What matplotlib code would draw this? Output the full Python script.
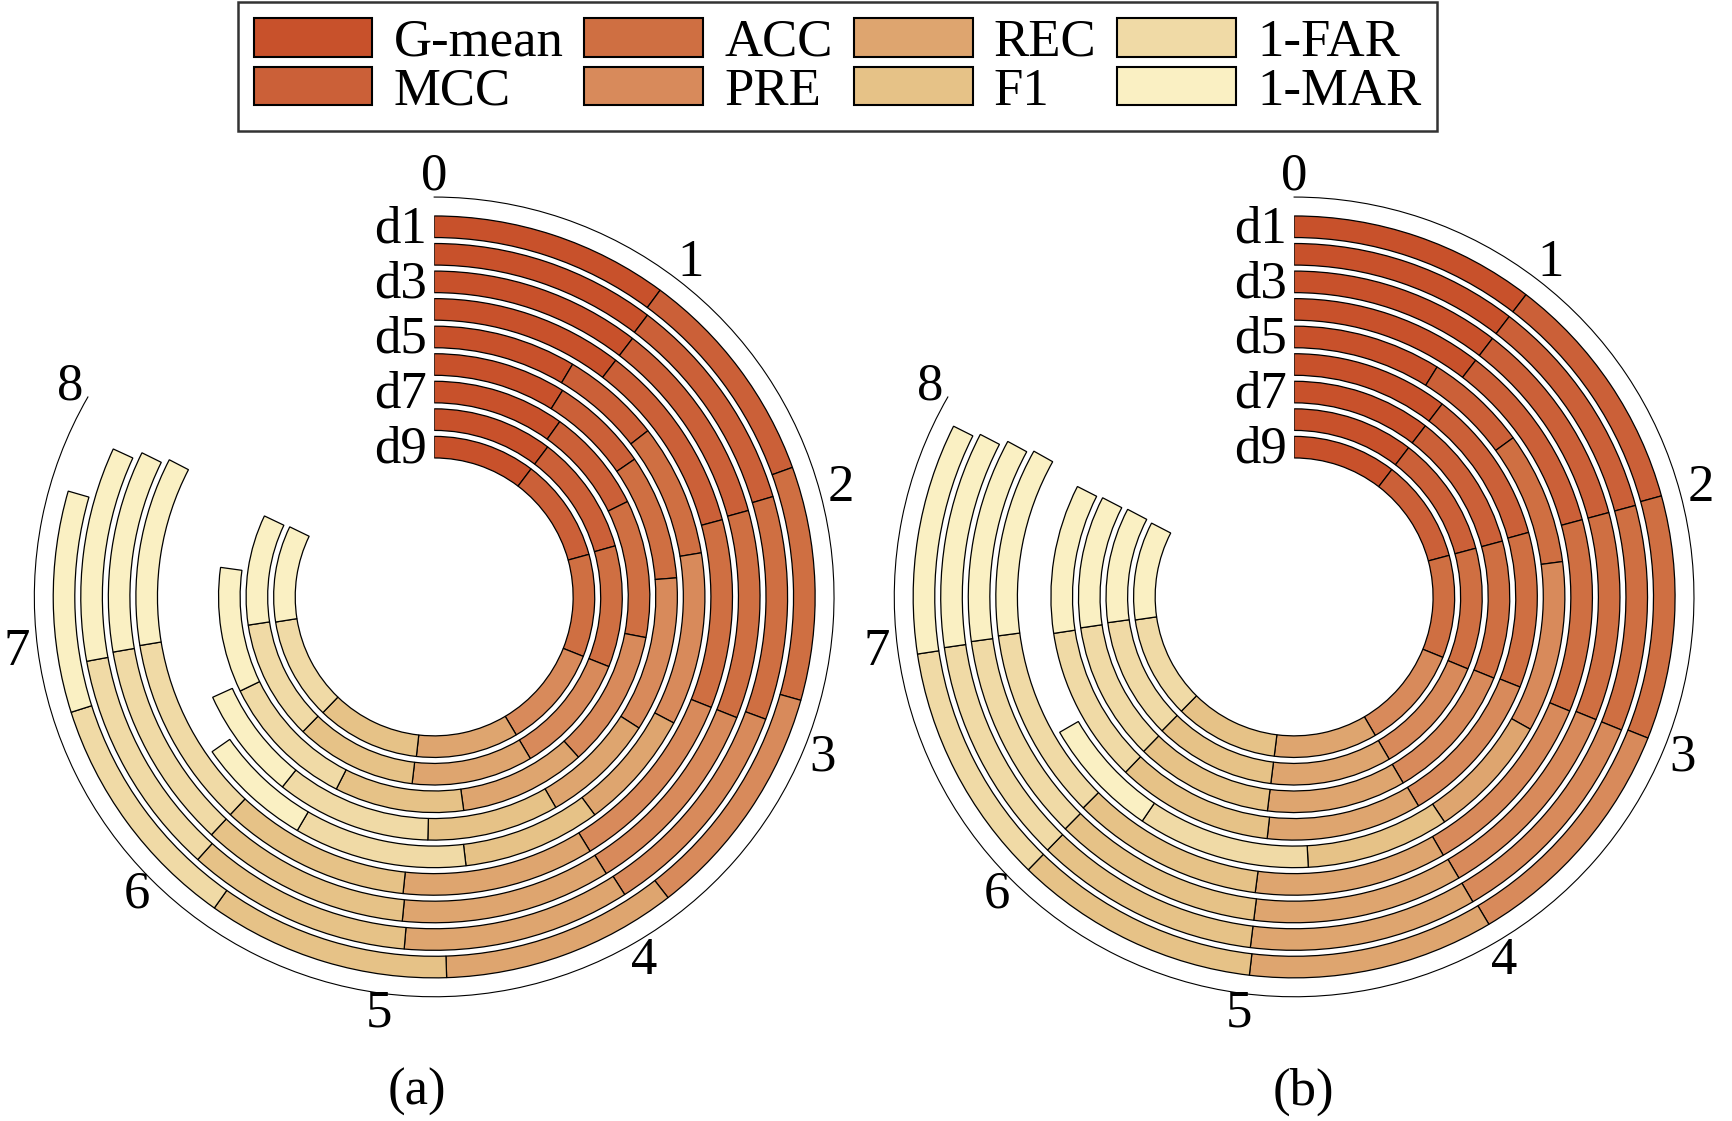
import numpy as np
import matplotlib
matplotlib.use("Agg")
import matplotlib.pyplot as plt
from matplotlib.patches import Patch

plt.rcParams['font.family'] = ['Liberation Serif', 'DejaVu Serif']

# --------------------------------------------------------------
# data: one list per ring (d1 outermost), 8 metrics per ring
# --------------------------------------------------------------
metrics = ["G-mean", "MCC", "ACC", "PRE", "REC", "F1", "1-FAR", "1-MAR"]
colors = ["#C8512B", "#CB6038", "#CF6F42", "#D88A5B", "#DEA56F", "#E6C287", "#F0DAA6", "#FAF0C3"]
ring_names = ["d1", "d2", "d3", "d4", "d5", "d6", "d7", "d8", "d9"]
tick_labels = ["0", "1", "2", "3", "4", "5", "6", "7", "8"]

# panel (a)
a_d1 = [0.97, 0.90, 0.95, 0.97, 0.96, 0.99, 0.99, 0.90]
a_d2 = [0.99, 0.97, 0.98, 0.99, 1.00, 0.99, 1.00, 0.94]
a_d3 = [1.00, 0.99, 0.99, 0.97, 1.00, 1.00, 0.99, 0.96]
a_d4 = [1.00, 1.00, 0.98, 0.98, 1.00, 0.99, 1.00, 0.98]
a_d5 = [0.82, 0.57, 0.76, 0.99, 0.69, 0.79, 0.99, 0.66]
a_d6 = [0.85, 0.63, 0.80, 0.99, 0.73, 0.84, 0.99, 0.72]
a_d7 = [0.95, 0.75, 0.99, 0.99, 0.91, 0.93, 0.99, 0.90]
a_d8 = [0.99, 0.99, 1.00, 1.00, 1.00, 1.00, 0.99, 0.91]
a_d9 = [0.99, 1.00, 0.99, 1.00, 0.99, 1.00, 0.99, 0.93]

# panel (b)
b_d1 = [1.00, 0.99, 0.99, 1.00, 1.00, 1.00, 0.99, 0.94]
b_d2 = [1.00, 1.00, 0.99, 1.00, 1.00, 0.99, 1.00, 0.95]
b_d3 = [1.00, 1.00, 0.99, 1.00, 1.00, 1.00, 1.00, 0.97]
b_d4 = [1.00, 1.00, 1.00, 1.00, 1.00, 1.00, 1.00, 0.98]
b_d5 = [0.85, 0.59, 0.76, 0.98, 0.72, 0.82, 0.99, 0.69]
b_d6 = [1.00, 0.99, 0.99, 1.00, 0.99, 1.00, 1.00, 0.95]
b_d7 = [1.00, 1.00, 0.99, 1.00, 1.00, 0.99, 1.00, 0.95]
b_d8 = [1.00, 1.00, 1.00, 0.99, 1.00, 1.00, 1.00, 0.95]
b_d9 = [1.00, 1.00, 0.99, 1.00, 1.00, 1.00, 0.99, 0.95]

rings_a = [a_d1, a_d2, a_d3, a_d4, a_d5, a_d6, a_d7, a_d8, a_d9]
rings_b = [b_d1, b_d2, b_d3, b_d4, b_d5, b_d6, b_d7, b_d8, b_d9]

# --------------------------------------------------------------
# geometry (radial units ~ pixels)
# --------------------------------------------------------------
UNIT = 2 * np.pi / 9.6     # value 8 -> 300 degrees
R_MAX = 402
R_OUT = 383
PITCH = 27.7
BAR = 21.7
FS = 38


def draw_panel(ax, rings):
    ax.set_theta_zero_location("N")
    ax.set_theta_direction(-1)
    ax.set_thetamin(0)
    ax.set_thetamax(300)
    ax.set_ylim(0, R_MAX)

    for k, vals in enumerate(rings):
        bottom = R_OUT - PITCH * k - BAR
        left = 0.0
        for j, v in enumerate(vals):
            ax.bar(left * UNIT, BAR, width=v * UNIT, bottom=bottom, align="edge",
                   color=colors[j], edgecolor="black", linewidth=0.9)
            left += v
        if k % 2 == 0:
            ax.annotate(ring_names[k], xy=(0, bottom + BAR / 2), xytext=(-5, -2),
                        textcoords="offset points", ha="right", va="center",
                        fontsize=FS)

    ax.set_xticks(np.arange(9) * UNIT)
    ax.set_xticklabels(tick_labels)
    ax.set_yticks([])
    ax.grid(False)
    # polar draw() turns start/end spines back on, so blank them instead
    for s in ["start", "end", "inner"]:
        ax.spines[s].set_linewidth(0)
        ax.spines[s].set_edgecolor("none")
    ax.spines["polar"].set_linewidth(0.8)
    ax.tick_params(axis="x", direction="out", length=6, width=0.8, pad=2, labelsize=FS)


fig = plt.figure(figsize=(17.32, 11.21), dpi=100)

ax_a = fig.add_axes([0.0185, 0.1079, 0.4642, 0.7172], projection="polar")
ax_b = fig.add_axes([0.5150, 0.1079, 0.4642, 0.7172], projection="polar")
draw_panel(ax_a, rings_a)
draw_panel(ax_b, rings_b)

fig.text(0.241, 0.026, "(a)", ha="center", va="center", fontsize=FS)
fig.text(0.7525, 0.026, "(b)", ha="center", va="center", fontsize=FS)

handles = [Patch(facecolor=c, edgecolor="black", linewidth=1.5) for c in colors]
leg = fig.legend(handles, metrics, ncol=4, loc="upper center",
                 bbox_to_anchor=(0.4836, 0.998), borderaxespad=0.0,
                 frameon=True, fancybox=False,
                 edgecolor="black", fontsize=38, handlelength=2.25, handleheight=0.75,
                 handletextpad=0.4, columnspacing=0.4, borderpad=0.3, labelspacing=0.0)
leg.get_frame().set_linewidth(1.8)

fig.savefig("out.png", dpi=100)
